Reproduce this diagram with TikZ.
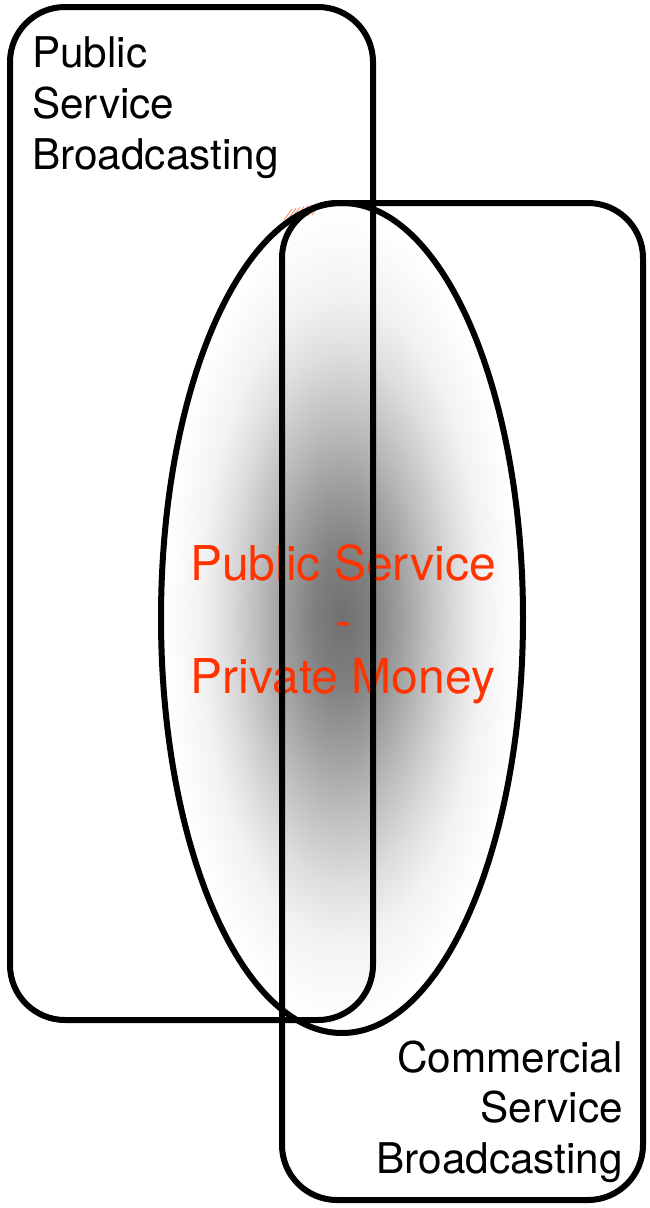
\documentclass[tikz,border=0pt]{standalone}
\usepackage{fontspec}
\setmainfont{TeX Gyre Heros}
\definecolor{psred}{RGB}{255,51,0}
\pgfdeclareradialshading{ellshade}{\pgfpoint{0bp}{0bp}}{%
  color(0bp)=(black!56); color(4bp)=(black!50); color(8bp)=(black!38);
  color(12bp)=(black!25); color(16bp)=(black!13); color(19.5bp)=(black!5);
  color(23bp)=(black!1.5); color(25bp)=(white); color(50bp)=(white)}
\tikzset{
  box/.style={draw=black, line width=6pt, rounded corners=55pt},
  lbl/.style={inner sep=0pt, font=\fontsize{42.3}{51}\selectfont},
  redlbl/.style={inner sep=0pt, text=psred, font=\fontsize{48}{56}\selectfont},
}
\begin{document}
\begin{tikzpicture}[x=1pt,y=-1pt]
\useasboundingbox (0,0) rectangle (649,1208);
% shaded ellipse
\shade[shading=ellshade] (342,618) ellipse [x radius=181, y radius=415];
% red text
\node[redlbl, anchor=base] (r1) at (343,580) {Public Service};
\node[redlbl, anchor=base] (r2) at (343,637) {-};
\node[redlbl, anchor=base] (r3) at (343,693) {Private Money};
% red hatch mark
\foreach \i in {0,...,7}
  \draw[psred!55, line width=0.9pt] (284+4*\i,220-0.7*\i) -- (292+4*\i,209-0.9*\i);
% boxes
\draw[box] (10,7) rectangle (373,1020);
\draw[box] (282,203) rectangle (643,1200);
\draw[line width=6pt] (342,618) ellipse [x radius=181, y radius=415];
% labels
\node[lbl, anchor=base west] (a1) at (32,67) {Public};
\node[lbl, anchor=base west] (a2) at (32,118) {Service};
\node[lbl, anchor=base west] (a3) at (32,169) {Broadcasting};
\node[lbl, anchor=base east] (b1) at (623,1072) {Commercial};
\node[lbl, anchor=base east] (b2) at (623,1122) {Service};
\node[lbl, anchor=base east] (b3) at (623,1173) {Broadcasting};
\end{tikzpicture}
\end{document}
